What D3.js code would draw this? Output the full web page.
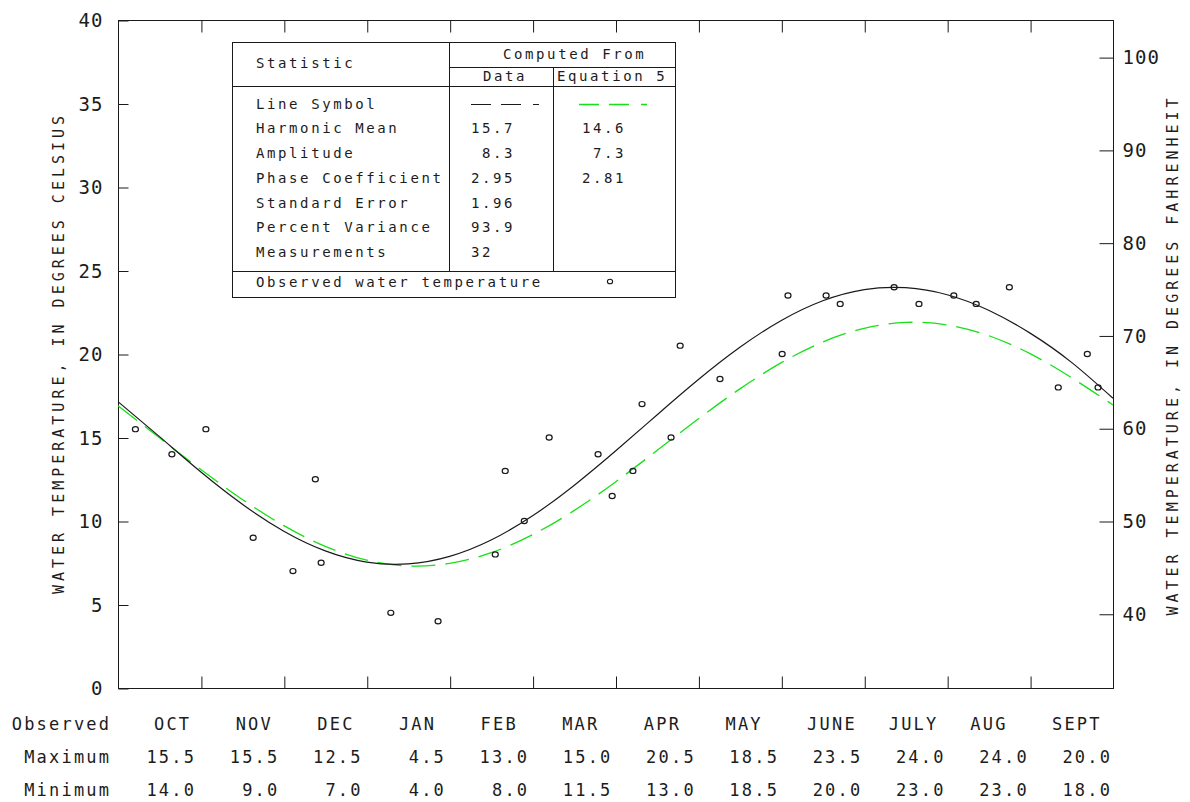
<!DOCTYPE html>
<html><head><meta charset="utf-8">
<script src="https://cdn.jsdelivr.net/npm/d3@7"></script>
<style>
body{margin:0;background:#fff;}
svg{display:block;background:#fff;}
text{font-family:"DejaVu Sans Mono",monospace;fill:#1c1c1c;}
</style></head><body>
<svg id="c" width="1190" height="802"></svg>
<script>
// ---------- data ----------
const months = ["OCT","NOV","DEC","JAN","FEB","MAR","APR","MAY","JUNE","JULY","AUG","SEPT"];
const observedMax = ["15.5","15.5","12.5","4.5","13.0","15.0","20.5","18.5","23.5","24.0","24.0","20.0"];
const observedMin = ["14.0","9.0","7.0","4.0","8.0","11.5","13.0","18.5","20.0","23.0","23.0","18.0"];
const celsiusTicks = [0,5,10,15,20,25,30,35,40];
const fahrenheitTicks = [40,50,60,70,80,90,100];
const monthBoundaries = [1,2,3,4,5,6,7,8,9,10,11];

// observations: months since Oct 1, temperature (deg C)
const obsMonth = [0.21,0.65,1.06,1.63,2.11,2.38,2.45,3.29,3.86,4.55,4.67,4.90,5.20,5.79,5.96,6.21,6.32,6.67,6.78,7.26,8.01,8.08,8.54,8.71,9.36,9.66,10.08,10.35,10.75,11.34,11.69,11.82];
const obsTemp  = [15.5,14.0,15.5,9.0,7.0,12.5,7.5,4.5,4.0,8.0,13.0,10.0,15.0,14.0,11.5,13.0,17.0,15.0,20.5,18.5,20.0,23.5,23.5,23.0,24.0,23.0,23.5,23.0,24.0,18.0,20.0,18.0];

// curves at half-month steps
const curveMonth = [0,0.5,1,1.5,2,2.5,3,3.5,4,4.5,5,5.5,6,6.5,7,7.5,8,8.5,9,9.5,10,10.5,11,11.5,12];
const dataCurve = [17.15,15.05,12.93,11.0,9.39,8.21,7.54,7.43,7.88,8.86,10.31,12.13,14.19,16.35,18.47,20.4,22.01,23.19,23.86,23.97,23.55,22.62,21.25,19.5,17.35];
const eqCurve   = [16.9,14.98,13.08,11.29,9.72,8.48,7.66,7.31,7.46,8.1,9.18,10.62,12.34,14.22,16.12,17.91,19.48,20.72,21.54,21.89,21.74,21.1,20.02,18.58,16.95];

const statRows = ["Line Symbol","Harmonic Mean","Amplitude","Phase Coefficient","Standard Error","Percent Variance","Measurements"];
const statData = ["","15.7"," 8.3","2.95","1.96","93.9","32"];
const statEq   = ["","14.6"," 7.3","2.81","","",""];

// ---------- drawing ----------
const svg = d3.select("#c");
const L = 118, R = 1113, T = 20, B = 688;
const x = d3.scaleLinear().domain([0,12]).range([L,R]);
const y = d3.scaleLinear().domain([0,40]).range([B,T]);
const yF = d3.scaleLinear().domain([32,104]).range([B,T]);
const ink = "#1a1a1a";
const green = "#16e016";

function styleAxis(g, fs, ls){
  g.attr("font-family",null).attr("font-size",null);
  g.selectAll("path.domain").remove();
  g.selectAll(".tick line").attr("stroke",ink).attr("stroke-width",1);
  g.selectAll(".tick text").attr("font-size",fs).attr("letter-spacing",ls).attr("fill","#1c1c1c");
}

// frame
svg.append("rect").attr("x",L+0.5).attr("y",T+0.5).attr("width",R-L).attr("height",B-T)
  .attr("fill","none").attr("stroke",ink).attr("stroke-width",1);

const gl = svg.append("g").attr("transform",`translate(${L+0.5},0.5)`)
  .call(d3.axisLeft(y).tickValues(celsiusTicks).tickSizeInner(-10).tickSizeOuter(0).tickPadding(15));
styleAxis(gl,19,1.1);
const gr = svg.append("g").attr("transform",`translate(${R+0.5},0.5)`)
  .call(d3.axisRight(yF).tickValues(fahrenheitTicks).tickSizeInner(-14).tickSizeOuter(0).tickPadding(9));
styleAxis(gr,19,1.1);
const gb = svg.append("g").attr("transform",`translate(0.5,${B+0.5})`)
  .call(d3.axisBottom(x).tickValues(monthBoundaries).tickSizeInner(-12).tickSizeOuter(0).tickFormat(""));
styleAxis(gb,10,0);
const gt = svg.append("g").attr("transform",`translate(0.5,${T+0.5})`)
  .call(d3.axisTop(x).tickValues(monthBoundaries).tickSizeInner(-12).tickSizeOuter(0).tickFormat(""));
styleAxis(gt,10,0);

// axis titles
svg.append("text").attr("transform","translate(64,353) rotate(-90)").attr("text-anchor","middle")
  .attr("font-size",15).attr("letter-spacing",4).text("WATER TEMPERATURE, IN DEGREES CELSIUS");
svg.append("text").attr("transform","translate(1178,355) rotate(-90)").attr("text-anchor","middle")
  .attr("font-size",15).attr("letter-spacing",4).text("WATER TEMPERATURE, IN DEGREES FAHRENHEIT");

// curves
const line = d3.line().x((d,i)=>x(curveMonth[i])).y(d=>y(d)).curve(d3.curveNatural);
svg.append("path").datum(eqCurve).attr("d",line).attr("fill","none")
  .attr("stroke",green).attr("stroke-width",1.3).attr("stroke-dasharray","24,10");
svg.append("path").datum(dataCurve).attr("d",line).attr("fill","none")
  .attr("stroke",ink).attr("stroke-width",1.2);

// observations
svg.append("g").selectAll("ellipse").data(obsTemp).join("ellipse")
  .attr("cx",(d,i)=>x(obsMonth[i])).attr("cy",d=>y(d)).attr("rx",3).attr("ry",2.6)
  .attr("fill","none").attr("stroke",ink).attr("stroke-width",1.2);

// statistics table
const tb = svg.append("g");
const tl = (x1,y1,x2,y2)=>tb.append("line").attr("x1",x1).attr("y1",y1).attr("x2",x2).attr("y2",y2)
  .attr("stroke",ink).attr("stroke-width",1);
tb.append("rect").attr("x",232.5).attr("y",42.5).attr("width",443).attr("height",255)
  .attr("fill","#fff").attr("stroke",ink).attr("stroke-width",1);
tl(449.5,42.5,449.5,271.5);
tl(553.5,67.5,553.5,271.5);
tl(449.5,67.5,675.5,67.5);
tl(232.5,86.5,675.5,86.5);
tl(232.5,271.5,675.5,271.5);
const tt = (s,xx,yy)=>tb.append("text").attr("x",xx).attr("y",yy).attr("font-size",14)
  .attr("letter-spacing",2.6).attr("xml:space","preserve").style("white-space","pre").text(s);
tt("Statistic",256,68);
tt("Computed From",503,59);
tt("Data",483,81);
tt("Equation 5",557,81);
const rowY = d3.scaleLinear().domain([0,6]).range([108.5,257]);
statRows.forEach((s,i)=>{ tt(s,256,rowY(i)); tt(statData[i],471,rowY(i)); tt(statEq[i],582,rowY(i)); });
tt("Observed water temperature",256,287);
tb.append("path").attr("d","M471,104.5H539").attr("stroke",ink).attr("stroke-width",1.2)
  .attr("stroke-dasharray","20,10,20,12,6");
tb.append("path").attr("d","M579,104.5H647").attr("stroke",green).attr("stroke-width",1.3)
  .attr("stroke-dasharray","20,10,20,12,6");
tb.append("ellipse").attr("cx",610).attr("cy",281.5).attr("rx",2.6).attr("ry",2.3)
  .attr("fill","none").attr("stroke",ink).attr("stroke-width",1.1);

// observed monthly table below the axis
const colStart = d3.scaleLinear().domain([0,11]).range([154,1052]);
const valEnd = d3.scaleLinear().domain([0,11]).range([194,1110]);
const bs = {fs:17, ls:2.2};
const bt = (s,xx,yy,anchor)=>svg.append("text").attr("x",xx).attr("y",yy).attr("text-anchor",anchor)
  .attr("font-size",bs.fs).attr("letter-spacing",bs.ls).text(s);
bt("Observed",109+bs.ls,730,"end");
bt("Maximum",109+bs.ls,763,"end");
bt("Minimum",109+bs.ls,796,"end");
months.forEach((m,i)=>bt(m,colStart(i),730,"start"));
observedMax.forEach((v,i)=>bt(v,valEnd(i)+bs.ls,763,"end"));
observedMin.forEach((v,i)=>bt(v,valEnd(i)+bs.ls,796,"end"));
</script>
</body></html>
